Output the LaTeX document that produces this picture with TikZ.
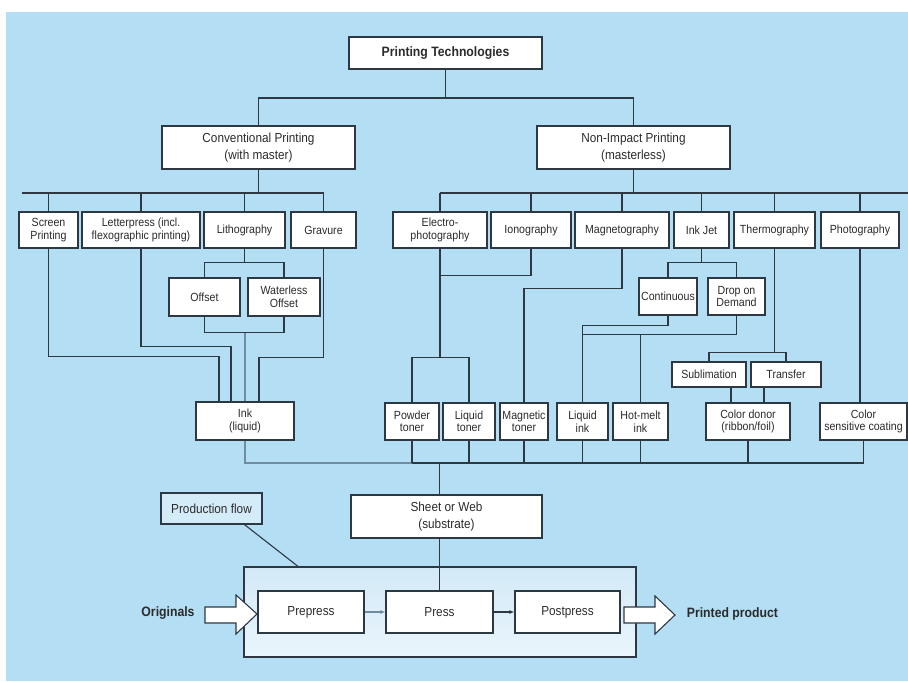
\documentclass[tikz,border=0pt]{standalone}
\usepackage{fontspec}
\setmainfont{Liberation Sans}[FakeStretch=0.9]
\usetikzlibrary{arrows.meta}
\definecolor{bgblue}{HTML}{B4DEF4}
\definecolor{linegray}{HTML}{2E3843}
\definecolor{inkgray}{HTML}{6F8CA0}
\definecolor{txtgray}{HTML}{2B2B2B}
\definecolor{flowfill}{HTML}{D4EBF8}
\definecolor{frametop}{HTML}{D2E9F7}
\definecolor{framebot}{HTML}{EAF5FC}
\newcommand{\lblsmall}{\fontsize{11.8}{12.5}\selectfont}
\newcommand{\lblbig}{\fontsize{13.1}{16.5}\selectfont}
\newcommand{\lblbold}{\fontsize{13.6}{16}\selectfont\bfseries}

\begin{document}
\begin{tikzpicture}[x=1pt,y=-1pt,align=center,color=linegray,text=txtgray,line width=1.1pt,
    box/.style={rectangle,draw=linegray,fill=white,line width=1.2pt,inner sep=1pt},
    sbox/.style 2 args={box,font=\lblsmall,minimum width=#1pt,minimum height=#2pt},
    bbox/.style 2 args={box,font=\lblbig,minimum width=#1pt,minimum height=#2pt},
    inkline/.style={draw=inkgray},
    flowtip/.style={-{Latex[length=5pt,width=4pt]}},
    bigarrow/.style={draw=linegray,fill=white,line width=1.1pt,line join=miter}]
      \useasboundingbox (0,0) rectangle (908,681);
      \fill[bgblue] (6,12) rectangle (908,681);

      %top
      \node[box,font=\lblbold,minimum width=193pt,minimum height=32pt] (tech) at (445.5,53) {Printing Technologies};
      \node[bbox={193}{43}] (conv) at (258.5,147.5) {Conventional Printing\\(with master)};
      \node[bbox={193}{43}] (nonimp) at (633.5,147.5) {Non-Impact Printing\\(masterless)};

      %conventional processes
      \node[sbox={59}{36}] (screen) at (48.5,230) {Screen\\Printing};
      \node[sbox={118}{36}] (letter) at (141,230) {Letterpress (incl.\\flexographic printing)};
      \node[sbox={81}{36}] (litho) at (244.5,230) {Lithography};
      \node[sbox={65}{36}] (grav) at (323.5,230) {Gravure};
      \node[sbox={71}{38}] (offset) at (204.5,297) {Offset};
      \node[sbox={72}{38}] (wless) at (284,297) {Waterless\\Offset};

      %non-impact processes
      \node[sbox={94}{36}] (electro) at (440,230) {Electro-\\photography};
      \node[sbox={80}{36}] (iono) at (531,230) {Ionography};
      \node[sbox={94}{36}] (magneto) at (622,230) {Magnetography};
      \node[sbox={55}{36}] (inkjet) at (701.5,230) {Ink Jet};
      \node[sbox={81}{36}] (thermo) at (774.5,230) {Thermography};
      \node[sbox={78}{36}] (photo) at (860,230) {Photography};
      \node[sbox={58}{37}] (contin) at (668,296.5) {Continuous};
      \node[sbox={57}{37}] (drop) at (736.5,296.5) {Drop on\\Demand};
      \node[sbox={74}{25}] (subl) at (709,374.5) {Sublimation};
      \node[sbox={70}{25}] (transf) at (786,374.5) {Transfer};

      %inks and toners
      \node[sbox={98}{38}] (ink) at (245,421) {Ink\\(liquid)};
      \node[sbox={54}{37}] (powder) at (412,421.5) {Powder\\toner};
      \node[sbox={52}{37}] (liqtoner) at (469,421.5) {Liquid\\toner};
      \node[sbox={48}{37}] (magtoner) at (524,421.5) {Magnetic\\toner};
      \node[sbox={51}{37}] (liqink) at (582.5,421.5) {Liquid\\ink};
      \node[sbox={55}{37}] (hotmelt) at (640.5,421.5) {Hot-melt\\ink};
      \node[sbox={84}{37}] (donor) at (748,421.5) {Color donor\\(ribbon/foil)};
      \node[sbox={87}{37}] (coat) at (863.5,421.5) {Color\\sensitive coating};

      %substrate and production flow
      \node[bbox={191}{43}] (sheet) at (446.5,516.5) {Sheet or Web\\(substrate)};
      \node[bbox={101}{31},fill=flowfill] (pflow) at (211.5,508.5) {Production flow};
      \node[rectangle,draw=linegray,line width=1.2pt,top color=frametop,bottom color=framebot,
            minimum width=392pt,minimum height=90pt] (frame) at (440,612) {};
      \node[bbox={106}{42}] (prepress) at (311,612) {Prepress};
      \node[bbox={107}{42}] (press) at (439.5,612) {Press};
      \node[bbox={105}{42}] (postpress) at (567.5,612) {Postpress};
      \node[font=\lblbold] (orig) at (168,613) {Originals};
      \node[font=\lblbold,anchor=west] (product) at (683,614) {Printed product};

      %bus levels
      \coordinate (topbus) at (0,98);
      \coordinate (convbus) at (22,193);
      \coordinate (nibus) at (908,193);
      \coordinate (lowbus) at (0,463);

      %tree connectors
      \draw (tech.south) -- (tech.south |- topbus);
      \draw (conv.north) |- (nonimp.north |- topbus) -- (nonimp.north);
      \draw (conv.south) -- (conv.south |- convbus);
      \draw (convbus) -- (grav.north |- convbus);
      \foreach \n in {screen,letter,litho,grav} \draw (\n.north) -- (\n.north |- convbus);
      \draw (nonimp.south) -- (nonimp.south |- nibus);
      \draw (electro.north |- nibus) -- (nibus);
      \foreach \n in {electro,iono,magneto,inkjet,thermo,photo} \draw (\n.north) -- (\n.north |- nibus);

      %conventional to ink
      \draw (litho.south) -- ++(0,14) coordinate (ltee);
      \draw (offset.north) |- (ltee) -| (wless.north);
      \draw (offset.south) -- ++(0,16) coordinate (otee) -| (wless.south);
      \draw[inkline] (ink.north |- otee) -- (ink.north);
      \draw (screen.south) -- ++(0,108) -| ([xshift=-26pt]ink.north);
      \draw (letter.south) -- ++(0,98) -| ([xshift=-14pt]ink.north);
      \draw (grav.south) -- ++(0,109) -| ([xshift=14pt]ink.north);

      %non-impact to toners and inks
      \draw (iono.south) -- ++(0,27) -| (electro.south);
      \draw (electro.south) -- ++(0,109) coordinate (etee);
      \draw (powder.north) |- (etee) -| (liqtoner.north);
      \draw (magneto.south) -- ++(0,40) -| (magtoner.north);
      \draw (inkjet.south) -- ++(0,14) coordinate (jtee);
      \draw (contin.north) |- (jtee) -| (drop.north);
      \draw (contin.south) -- ++(0,10) -| (liqink.north);
      \draw (drop.south) -- ++(0,19) coordinate (dtee) -| (liqink.north);
      \draw (hotmelt.north) -- (hotmelt.north |- dtee);
      \draw (thermo.south) -- ++(0,104) coordinate (ttee);
      \draw (subl.north) |- (ttee) -| (transf.north);
      \draw ([xshift=-17pt]donor.north) -- ([xshift=-17pt]donor.north |- subl.south);
      \draw ([xshift=16pt]donor.north) -- ([xshift=16pt]donor.north |- transf.south);
      \draw (photo.south) -- (photo.south |- coat.north);

      %down to substrate
      \draw[inkline] (ink.south) |- (powder.south |- lowbus);
      \draw (powder.south |- lowbus) -| (coat.south);
      \foreach \n in {powder,liqtoner,magtoner,liqink,hotmelt,donor} \draw (\n.south) -- (\n.south |- lowbus);
      \draw (press.north |- lowbus) -- (press.north |- sheet.north);
      \draw (press.north |- sheet.south) -- (press.north);

      %production flow
      \draw ([xshift=33pt]pflow.south) -- ([xshift=-142pt]frame.north);
      \draw[flowtip,inkline] (prepress) -- (press);
      \draw[flowtip] (press) -- (postpress);
      \draw[bigarrow] (205,607) -- (236,607) -- (236,595) -- (257,614) -- (236,634) -- (236,623) -- (205,623) -- cycle;
      \draw[bigarrow] (624,607) -- (655,607) -- (655,596) -- (675,615) -- (655,634) -- (655,623) -- (624,623) -- cycle;

    \end{tikzpicture}
\end{document}
